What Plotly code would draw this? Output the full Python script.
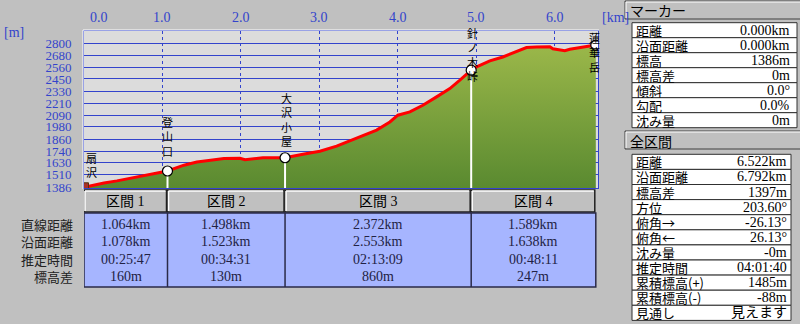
import plotly.graph_objects as go

# ---------------- data ----------------
dist_km = [0.0, 0.085, 0.255, 0.42, 0.637, 0.85, 1.064, 1.274, 1.439, 1.614, 1.783, 1.987, 2.051,
           2.28, 2.562, 2.79, 3.006, 3.219, 3.427, 3.554, 3.729, 3.898, 4.0, 4.153, 4.318, 4.493,
           4.662, 4.79, 4.934, 5.003, 5.172, 5.338, 5.465, 5.639, 5.767, 5.936, 5.975, 6.127,
           6.191, 6.357, 6.522]
elev_m = [1386, 1402, 1428, 1449, 1482, 1515, 1546, 1603, 1635, 1652, 1669, 1671, 1656,
          1677, 1676, 1711, 1740, 1790, 1855, 1898, 1948, 2028, 2094, 2126, 2192, 2274,
          2356, 2438, 2536, 2568, 2627, 2666, 2706, 2759, 2765, 2767, 2747, 2727,
          2741, 2761, 2783]

wp_names = ["扇沢", "登山口", "大沢小屋", "針ノ木峠", "蓮華岳"]
wp_dist = [0.0, 1.064, 2.562, 4.934, 6.522]
wp_elev = [1386, 1546, 1676, 2536, 2783]

seg_names = ["区間 1", "区間 2", "区間 3", "区間 4"]
seg_straight = ["1.064km", "1.498km", "2.372km", "1.589km"]
seg_surface = ["1.078km", "1.523km", "2.553km", "1.638km"]
seg_time = ["00:25:47", "00:34:31", "02:13:09", "00:48:11"]
seg_diff = ["160m", "130m", "860m", "247m"]
row_labels = ["直線距離", "沿面距離", "推定時間", "標高差"]

y_ticks = [1386, 1510, 1630, 1740, 1860, 1980, 2090, 2210, 2330, 2450, 2560, 2680, 2800]
x_ticks = [0, 1, 2, 3, 4, 5, 6]
x_tick_text = ["0.0", "1.0", "2.0", "3.0", "4.0", "5.0", "6.0"]

marker_labels = ["距離", "沿面距離", "標高", "標高差", "傾斜", "勾配", "沈み量"]
marker_values = ["0.000km", "0.000km", "1386m", "0m", "0.0°", "0.0%", "0m"]
total_labels = ["距離", "沿面距離", "標高差", "方位", "俯角→", "俯角←", "沈み量", "推定時間",
                "累積標高(+)", "累積標高(-)", "見通し"]
total_values = ["6.522km", "6.792km", "1397m", "203.60°", "-26.13°", "26.13°", "-0m",
                "04:01:40", "1485m", "-88m", "見えます"]

# ---------------- layout geometry ----------------
W, H = 800, 324
L, R, T, B = 84, 202, 31, 136
X_RANGE = [0, 6.55]
Y_RANGE = [1379, 2921]
PW, PH = W - L - R, H - T - B
KPP = (X_RANGE[1] - X_RANGE[0]) / PW  # km per pixel

def px(X):
    return (X - L) / PW

def py(Y):
    return (H - B - Y) / PH

BLUE = "#3344cc"
SERIF = "Liberation Serif, Noto Sans CJK JP"
CJK = "Noto Sans CJK JP"

fig = go.Figure()

# filled profile
fig.add_trace(go.Scatter(
    x=dist_km, y=elev_m, mode="lines", line=dict(width=0, color="rgba(0,0,0,0)"),
    fill="tozeroy",
    fillgradient=dict(type="vertical", colorscale=[[0, "#5a8a30"], [1, "#9cb84a"]],
                      start=1386, stop=2800),
    hoverinfo="skip", showlegend=False))

# white vertical lines at waypoints
for i in range(1, 4):
    fig.add_trace(go.Scatter(x=[wp_dist[i], wp_dist[i]], y=[Y_RANGE[0], wp_elev[i]],
                             mode="lines", line=dict(color="white", width=2),
                             hoverinfo="skip", showlegend=False))

# red profile line
fig.add_trace(go.Scatter(x=dist_km, y=elev_m, mode="lines",
                         line=dict(color="#ff0000", width=3), hoverinfo="skip",
                         showlegend=False))

# waypoint markers
fig.add_trace(go.Scatter(x=wp_dist[1:], y=wp_elev[1:], mode="markers",
                         marker=dict(size=10, color="white", line=dict(color="black", width=1.2)),
                         hoverinfo="skip", showlegend=False))
# start (hiker) marker
fig.add_trace(go.Scatter(x=[wp_dist[0]], y=[wp_elev[0]], mode="markers",
                         marker=dict(size=9, color="#a83228", symbol="square",
                                     line=dict(color="#553311", width=1)),
                         hoverinfo="skip", showlegend=False))

shapes = []
ann = []

# plot frame highlight (white on top/left)
shapes.append(dict(type="line", xref="paper", yref="paper", x0=px(83), x1=px(599),
                   y0=py(30), y1=py(30), line=dict(color="white", width=1)))
shapes.append(dict(type="line", xref="paper", yref="paper", x0=px(83), x1=px(83),
                   y0=py(30), y1=py(189), line=dict(color="white", width=1)))

# top axis labels
for v, t in zip(x_ticks, x_tick_text):
    ann.append(dict(x=v, y=py(17), xref="x", yref="paper", text=t, showarrow=False,
                    xanchor="left" if v == 0 else "center", xshift=4 if v == 0 else 0,
                    yanchor="middle", font=dict(family=SERIF, size=14, color=BLUE)))
ann.append(dict(x=px(600), y=py(17), xref="paper", yref="paper", text="[km]", showarrow=False,
                xanchor="left", yanchor="middle", font=dict(family=SERIF, size=14, color=BLUE)))
ann.append(dict(x=px(2), y=py(32), xref="paper", yref="paper", text="[m]", showarrow=False,
                xanchor="left", yanchor="middle", font=dict(family=SERIF, size=14, color=BLUE)))

# waypoint vertical labels
label_centers = [165, 136, 119, 55, 52]
label_xshift = [7, 0, 1, 1, -1]
for name, d, yc, xs in zip(wp_names, wp_dist, label_centers, label_xshift):
    ann.append(dict(x=d, y=py(yc), xref="x", yref="paper", text="<br>".join(list(name)),
                    showarrow=False, xanchor="center", yanchor="middle", xshift=xs,
                    font=dict(family=CJK, size=11, color="black")))

# ---------------- section table ----------------
HDR_TOP, HDR_BOT, DATA_BOT = 190, 213, 287
for i in range(4):
    x0, x1 = wp_dist[i], wp_dist[i + 1]
    shapes.append(dict(type="rect", xref="x", yref="paper", x0=x0, x1=x1 - 1 * KPP,
                       y0=py(HDR_TOP), y1=py(HDR_BOT - 1), fillcolor="#c0c0c0",
                       line=dict(color="#202020", width=1.5)))
    shapes.append(dict(type="line", xref="x", yref="paper", x0=x0 + KPP, x1=x1 - 2 * KPP,
                       y0=py(HDR_TOP + 1), y1=py(HDR_TOP + 1), line=dict(color="white", width=1.5)))
    shapes.append(dict(type="line", xref="x", yref="paper", x0=x0 + KPP, x1=x0 + KPP,
                       y0=py(HDR_TOP + 1), y1=py(HDR_BOT - 2), line=dict(color="white", width=1.5)))
    ann.append(dict(x=(x0 + x1) / 2, y=py(201.5), xref="x", yref="paper", text=seg_names[i],
                    showarrow=False, xanchor="center", yanchor="middle",
                    font=dict(family=SERIF, size=14, color="black")))

shapes.append(dict(type="rect", xref="x", yref="paper", x0=wp_dist[0], x1=wp_dist[-1],
                   y0=py(HDR_BOT), y1=py(DATA_BOT), fillcolor="#a6b5ff",
                   line=dict(color="#2a2a48", width=1.5)))
for i in range(1, 4):
    shapes.append(dict(type="line", xref="x", yref="paper", x0=wp_dist[i], x1=wp_dist[i],
                       y0=py(HDR_BOT), y1=py(DATA_BOT), line=dict(color="#2a2a48", width=1.5)))

row_y = [224, 241.5, 259, 276.5]
rows = [seg_straight, seg_surface, seg_time, seg_diff]
for yc, lab, vals in zip(row_y, row_labels, rows):
    ann.append(dict(x=px(75), y=py(yc), xref="paper", yref="paper", text=lab, showarrow=False,
                    xanchor="right", yanchor="middle", font=dict(family=CJK, size=13, color="#222222")))
    for i, v in enumerate(vals):
        ann.append(dict(x=(wp_dist[i] + wp_dist[i + 1]) / 2, y=py(yc), xref="x", yref="paper",
                        text=v, showarrow=False, xanchor="center", yanchor="middle",
                        font=dict(family=SERIF, size=14, color="#222244")))

# ---------------- right panels ----------------
def panel(title, top, labels, values, tbl_top, row_h, tbl_right, val_right):
    shapes.append(dict(type="rect", xref="paper", yref="paper", x0=px(625), x1=px(801),
                       y0=py(top), y1=py(top + 18), fillcolor="#c0c0c0",
                       line=dict(color="#404040", width=1)))
    shapes.append(dict(type="line", xref="paper", yref="paper", x0=px(626), x1=px(800),
                       y0=py(top + 1), y1=py(top + 1), line=dict(color="white", width=1)))
    shapes.append(dict(type="line", xref="paper", yref="paper", x0=px(626), x1=px(626),
                       y0=py(top + 1), y1=py(top + 17), line=dict(color="white", width=1)))
    ann.append(dict(x=px(628), y=py(top + 9.5), xref="paper", yref="paper", text=title,
                    showarrow=False, xanchor="left", yanchor="middle",
                    font=dict(family=CJK, size=14, color="black")))
    for k, (lab, val) in enumerate(zip(labels, values)):
        y0 = tbl_top + k * row_h
        shapes.append(dict(type="rect", xref="paper", yref="paper", x0=px(632), x1=px(tbl_right),
                           y0=py(y0), y1=py(y0 + row_h), fillcolor="white",
                           line=dict(color="#303030", width=1)))
        ann.append(dict(x=px(634), y=py(y0 + row_h / 2), xref="paper", yref="paper", text=lab,
                        showarrow=False, xanchor="left", yanchor="middle",
                        font=dict(family=CJK, size=13, color="black")))
        ann.append(dict(x=px(val_right), y=py(y0 + row_h / 2), xref="paper", yref="paper",
                        text=val, showarrow=False, xanchor="right", yanchor="middle",
                        font=dict(family=SERIF, size=14, color="black")))

panel("マーカー", 1, marker_labels, marker_values, 22.7, 15.0, 797, 792)
panel("全区間", 131, total_labels, total_values, 154.3, 15.1, 791, 789)

fig.update_layout(
    width=W, height=H, margin=dict(l=L, r=R, t=T, b=B, pad=0),
    paper_bgcolor="#c0c0c0", plot_bgcolor="#dcdcdc",
    showlegend=False, shapes=shapes, annotations=ann,
    xaxis=dict(range=X_RANGE, tickvals=x_ticks[1:], showticklabels=False, showgrid=True,
               gridcolor=BLUE, griddash="dot", gridwidth=1, zeroline=False,
               showline=True, mirror=True, linecolor=BLUE, linewidth=1, ticks="",
               fixedrange=True),
    yaxis=dict(range=Y_RANGE, tickvals=y_ticks, ticktext=[str(v) for v in y_ticks],
               showgrid=True, gridcolor=BLUE, gridwidth=1, zeroline=False,
               showline=True, mirror=True, linecolor=BLUE, linewidth=1,
               ticks="outside", ticklen=9, tickcolor="rgba(0,0,0,0)",
               tickfont=dict(family=SERIF, size=13, color=BLUE), fixedrange=True),
)

fig.write_html("out.html")
